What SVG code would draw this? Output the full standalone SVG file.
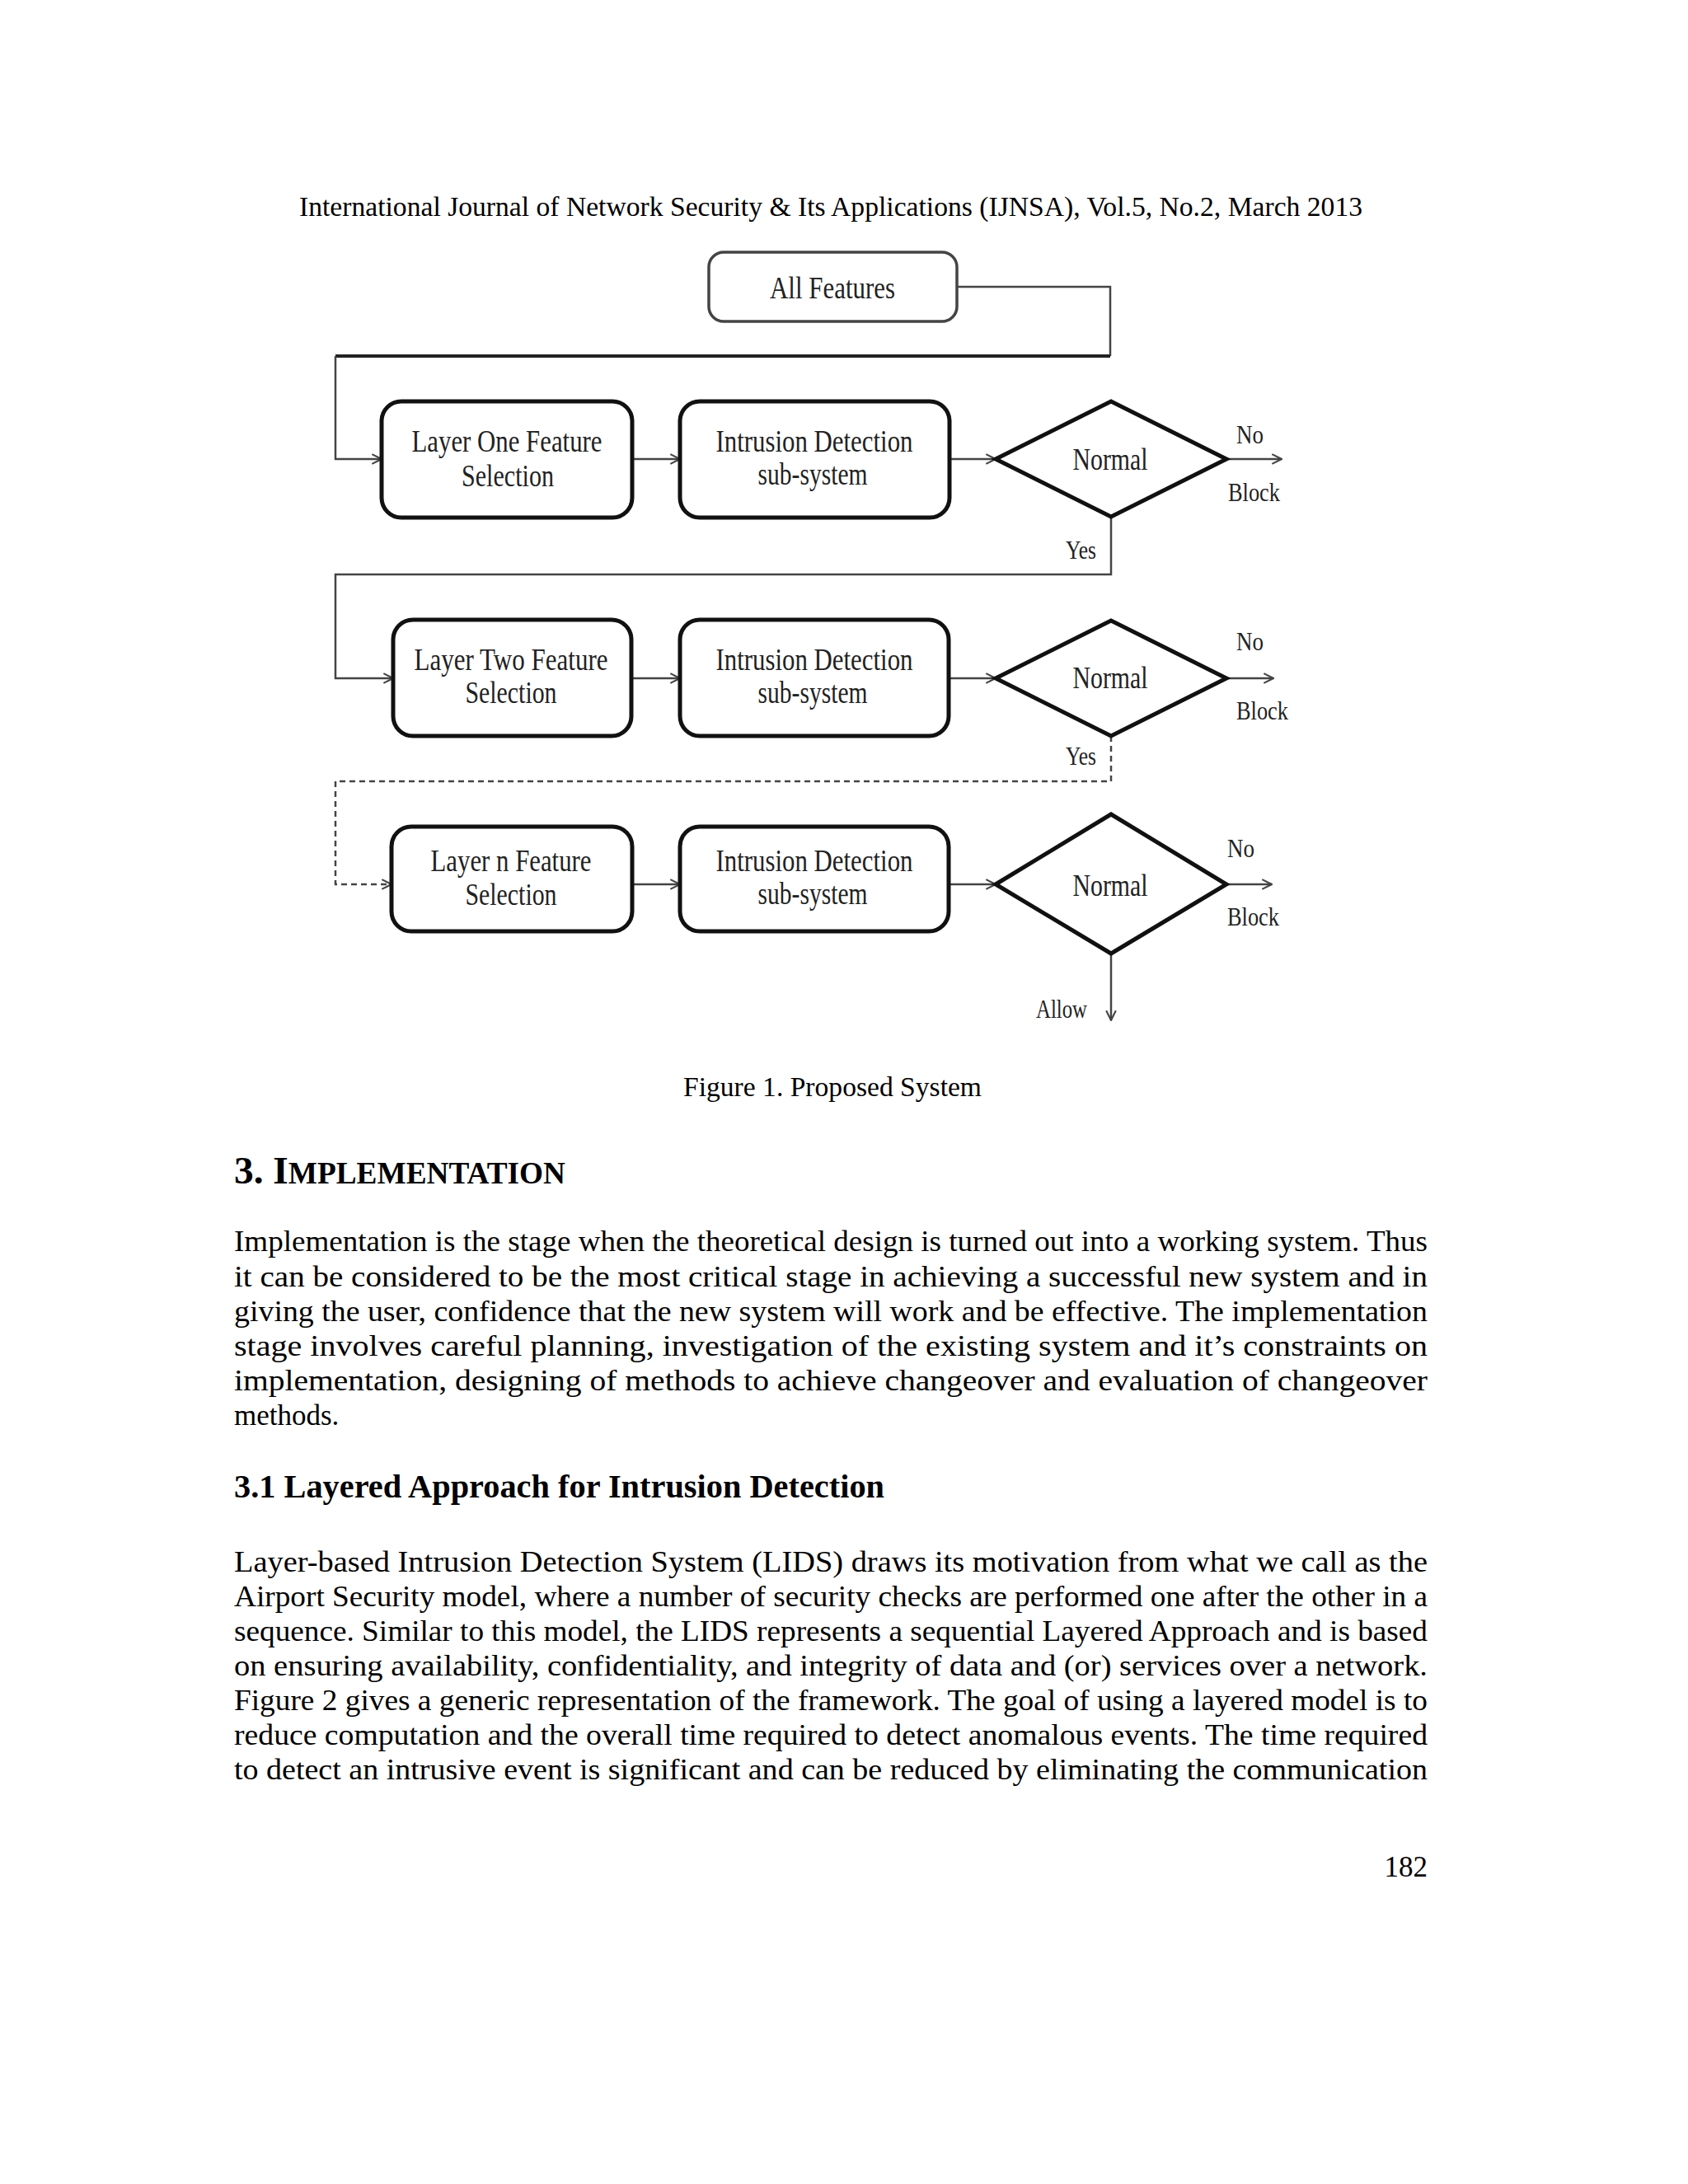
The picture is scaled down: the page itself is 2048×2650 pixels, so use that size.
<svg xmlns="http://www.w3.org/2000/svg" width="2048" height="2650" viewBox="0 0 2048 2650">
<style>
.pg{font-family:"Liberation Serif","Times New Roman",serif;fill:#000;}
.body{font-size:35px;}
.hdr{font-size:33px;}
.ft{font-family:"Liberation Serif","Times New Roman",serif;fill:#222;font-size:38px;}
.lb{font-family:"Liberation Serif","Times New Roman",serif;fill:#222;font-size:32px;}
.box{fill:#fff;stroke:#111;stroke-width:5;}
.dia{fill:#fff;stroke:#111;stroke-width:5;}
.cn{fill:none;stroke:#444;stroke-width:2.5;}
.dash{stroke-dasharray:7 5;}
</style>
<defs>
<marker id="arr" viewBox="0 0 12 12" markerWidth="14" markerHeight="14" refX="11" refY="6" orient="auto" markerUnits="userSpaceOnUse">
<path d="M1,1 L11,6 L1,11" fill="none" stroke="#444" stroke-width="1.8"/>
</marker>
</defs>
<rect x="0" y="0" width="2048" height="2650" fill="#fff"/>

<text class="pg hdr" x="363" y="262" textLength="1290" lengthAdjust="spacingAndGlyphs">International Journal of Network Security &amp; Its Applications (IJNSA), Vol.5, No.2, March 2013</text>

<g id="connectors">
<path class="cn" d="M1161,348 H1347 V432"/>
<path class="cn" style="stroke-width:4;stroke:#222" d="M1347,432 H407"/>
<path class="cn" d="M407,432 V557 H463" marker-end="url(#arr)"/>
<path class="cn" d="M767,557 H825" marker-end="url(#arr)"/>
<path class="cn" d="M1152,557 H1208" marker-end="url(#arr)"/>
<path class="cn" d="M1488,557 H1555" marker-end="url(#arr)"/>
<path class="cn" d="M1348,627 V697 H407 V823 H477" marker-end="url(#arr)"/>
<path class="cn" d="M766,823 H825" marker-end="url(#arr)"/>
<path class="cn" d="M1151,823 H1208" marker-end="url(#arr)"/>
<path class="cn" d="M1488,823 H1545" marker-end="url(#arr)"/>
<path class="cn dash" d="M1348,893 V948 H407 V1073 H475" marker-end="url(#arr)"/>
<path class="cn" d="M767,1073 H825" marker-end="url(#arr)"/>
<path class="cn" d="M1151,1073 H1208" marker-end="url(#arr)"/>
<path class="cn" d="M1488,1073 H1543" marker-end="url(#arr)"/>
<path class="cn" d="M1348,1157 V1238" marker-end="url(#arr)"/>
</g>

<g id="all-features">
<rect x="860" y="306" width="301" height="84" rx="18" fill="#fff" stroke="#444" stroke-width="3.5"/>
<text class="ft" x="1010" y="362" font-size="36" text-anchor="middle" textLength="152" lengthAdjust="spacingAndGlyphs">All Features</text>
</g>

<g id="layer-one">
<rect class="box" x="463" y="487" width="304" height="141" rx="24"/>
<text class="ft" x="615" y="548" text-anchor="middle" textLength="231" lengthAdjust="spacingAndGlyphs">Layer One Feature</text>
<text class="ft" x="616" y="590" text-anchor="middle" textLength="112" lengthAdjust="spacingAndGlyphs">Selection</text>
</g>
<g id="ids-one">
<rect class="box" x="825" y="487" width="327" height="141" rx="24"/>
<text class="ft" x="988" y="548" text-anchor="middle" textLength="239" lengthAdjust="spacingAndGlyphs">Intrusion Detection</text>
<text class="ft" x="986" y="588" text-anchor="middle" textLength="133" lengthAdjust="spacingAndGlyphs">sub-system</text>
</g>
<g id="normal-one">
<polygon class="dia" points="1208,557 1348,487 1488,557 1348,627"/>
<text class="ft" x="1347" y="570" text-anchor="middle" textLength="91" lengthAdjust="spacingAndGlyphs">Normal</text>
<text class="lb" x="1500" y="538" textLength="33" lengthAdjust="spacingAndGlyphs">No</text>
<text class="lb" x="1490" y="608" textLength="63" lengthAdjust="spacingAndGlyphs">Block</text>
<text class="lb" x="1293" y="678" textLength="37" lengthAdjust="spacingAndGlyphs">Yes</text>
</g>

<g id="layer-two">
<rect class="box" x="477" y="752" width="289" height="141" rx="24"/>
<text class="ft" x="620" y="813" text-anchor="middle" textLength="235" lengthAdjust="spacingAndGlyphs">Layer Two Feature</text>
<text class="ft" x="620" y="853" text-anchor="middle" textLength="111" lengthAdjust="spacingAndGlyphs">Selection</text>
</g>
<g id="ids-two">
<rect class="box" x="825" y="752" width="326" height="141" rx="24"/>
<text class="ft" x="988" y="813" text-anchor="middle" textLength="239" lengthAdjust="spacingAndGlyphs">Intrusion Detection</text>
<text class="ft" x="986" y="853" text-anchor="middle" textLength="133" lengthAdjust="spacingAndGlyphs">sub-system</text>
</g>
<g id="normal-two">
<polygon class="dia" points="1208,823 1348,753 1488,823 1348,893"/>
<text class="ft" x="1347" y="835" text-anchor="middle" textLength="91" lengthAdjust="spacingAndGlyphs">Normal</text>
<text class="lb" x="1500" y="789" textLength="33" lengthAdjust="spacingAndGlyphs">No</text>
<text class="lb" x="1500" y="873" textLength="63" lengthAdjust="spacingAndGlyphs">Block</text>
<text class="lb" x="1293" y="928" textLength="37" lengthAdjust="spacingAndGlyphs">Yes</text>
</g>

<g id="layer-n">
<rect class="box" x="475" y="1003" width="292" height="127" rx="24"/>
<text class="ft" x="620" y="1057" text-anchor="middle" textLength="195" lengthAdjust="spacingAndGlyphs">Layer n Feature</text>
<text class="ft" x="620" y="1098" text-anchor="middle" textLength="111" lengthAdjust="spacingAndGlyphs">Selection</text>
</g>
<g id="ids-n">
<rect class="box" x="825" y="1003" width="326" height="127" rx="24"/>
<text class="ft" x="988" y="1057" text-anchor="middle" textLength="239" lengthAdjust="spacingAndGlyphs">Intrusion Detection</text>
<text class="ft" x="986" y="1097" text-anchor="middle" textLength="133" lengthAdjust="spacingAndGlyphs">sub-system</text>
</g>
<g id="normal-n">
<polygon class="dia" points="1208,1073 1348,988 1488,1073 1348,1157"/>
<text class="ft" x="1347" y="1087" text-anchor="middle" textLength="91" lengthAdjust="spacingAndGlyphs">Normal</text>
<text class="lb" x="1489" y="1040" textLength="33" lengthAdjust="spacingAndGlyphs">No</text>
<text class="lb" x="1489" y="1123" textLength="63" lengthAdjust="spacingAndGlyphs">Block</text>
<text class="lb" x="1257" y="1235" textLength="62" lengthAdjust="spacingAndGlyphs">Allow</text>
</g>

<text class="pg" x="1010" y="1330" font-size="33" text-anchor="middle" textLength="362" lengthAdjust="spacingAndGlyphs">Figure 1. Proposed System</text>

<text class="pg" x="284" y="1436" font-weight="bold" font-size="47" textLength="402" lengthAdjust="spacingAndGlyphs">3. I<tspan font-size="37">MPLEMENTATION</tspan></text>

<g class="pg body">
<text x="284" y="1518" textLength="1448" lengthAdjust="spacingAndGlyphs">Implementation is the stage when the theoretical design is turned out into a working system. Thus</text>
<text x="284" y="1561" textLength="1448" lengthAdjust="spacingAndGlyphs">it can be considered to be the most critical stage in achieving a successful new system and in</text>
<text x="284" y="1603" textLength="1448" lengthAdjust="spacingAndGlyphs">giving the user, confidence that the new system will work and be effective. The implementation</text>
<text x="284" y="1645" textLength="1448" lengthAdjust="spacingAndGlyphs">stage involves careful planning, investigation of the existing system and it’s constraints on</text>
<text x="284" y="1687" textLength="1448" lengthAdjust="spacingAndGlyphs">implementation, designing of methods to achieve changeover and evaluation of changeover</text>
<text x="284" y="1729">methods.</text>
</g>

<text class="pg" x="284" y="1817" font-weight="bold" font-size="39" textLength="789" lengthAdjust="spacingAndGlyphs">3.1 Layered Approach for Intrusion Detection</text>

<g class="pg body">
<text x="284" y="1907" textLength="1448" lengthAdjust="spacingAndGlyphs">Layer-based Intrusion Detection System (LIDS) draws its motivation from what we call as the</text>
<text x="284" y="1949" textLength="1448" lengthAdjust="spacingAndGlyphs">Airport Security model, where a number of security checks are performed one after the other in a</text>
<text x="284" y="1991" textLength="1448" lengthAdjust="spacingAndGlyphs">sequence. Similar to this model, the LIDS represents a sequential Layered Approach and is based</text>
<text x="284" y="2033" textLength="1448" lengthAdjust="spacingAndGlyphs">on ensuring availability, confidentiality, and integrity of data and (or) services over a network.</text>
<text x="284" y="2075" textLength="1448" lengthAdjust="spacingAndGlyphs">Figure 2 gives a generic representation of the framework. The goal of using a layered model is to</text>
<text x="284" y="2117" textLength="1448" lengthAdjust="spacingAndGlyphs">reduce computation and the overall time required to detect anomalous events. The time required</text>
<text x="284" y="2159" textLength="1448" lengthAdjust="spacingAndGlyphs">to detect an intrusive event is significant and can be reduced by eliminating the communication</text>
</g>

<text class="pg body" x="1732" y="2277" text-anchor="end">182</text>
</svg>
